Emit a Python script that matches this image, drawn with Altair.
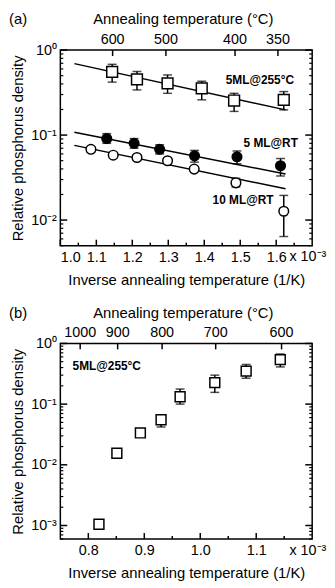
import altair as alt
import pandas as pd
import numpy as np

FONT = "Liberation Sans"

# ---------------- Panel (a) data ----------------
a_sq_x = [1.144, 1.213, 1.298, 1.393, 1.483, 1.621]
a_sq_y = [0.555, 0.452, 0.406, 0.355, 0.255, 0.26]
a_sq_lo = [0.42, 0.34, 0.31, 0.26, 0.19, 0.198]
a_sq_hi = [0.68, 0.56, 0.51, 0.43, 0.31, 0.325]

a_fc_x = [1.129, 1.205, 1.276, 1.373, 1.491, 1.612]
a_fc_y = [0.091, 0.080, 0.068, 0.057, 0.0555, 0.0436]
a_fc_lo = [0.080, 0.070, 0.060, 0.048, 0.046, 0.033]
a_fc_hi = [0.104, 0.091, 0.077, 0.066, 0.065, 0.053]

a_oc_x = [1.085, 1.147, 1.213, 1.298, 1.372, 1.488, 1.621]
a_oc_y = [0.068, 0.058, 0.0545, 0.0499, 0.0398, 0.0274, 0.0127]
a_oc_lo = [0.063, 0.054, 0.051, 0.047, 0.0375, 0.0245, 0.0064]
a_oc_hi = [0.073, 0.062, 0.058, 0.053, 0.042, 0.031, 0.0195]

fit_x = [1.039, 1.626]
fit_sq = [0.693, 0.198]
fit_fc = [0.108, 0.0348]
fit_oc = [0.0757, 0.0233]

a_top_temps = [600, 500, 400, 350]
a_bottom_major = [1.0, 1.1, 1.2, 1.3, 1.4, 1.5, 1.6]
a_bottom_minor = [1.05, 1.15, 1.25, 1.35, 1.45, 1.55, 1.65]

# ---------------- Panel (b) data ----------------
b_x = [0.819, 0.851, 0.893, 0.930, 0.964, 1.026, 1.082, 1.143]
b_y = [0.00105, 0.0155, 0.0335, 0.0553, 0.132, 0.226, 0.35, 0.54]
b_lo = [np.nan, np.nan, 0.030, 0.042, 0.10, 0.156, 0.267, 0.41]
b_hi = [np.nan, np.nan, 0.038, 0.065, 0.177, 0.30, 0.45, 0.67]

b_top_temps = [1000, 900, 800, 700, 600]
b_bottom_major = [0.8, 0.9, 1.0, 1.1]
b_bottom_minor = [0.85, 0.95, 1.05, 1.15]

W, H = 255, 198
SW = 1.5
LBL = 14.5
TTL = 15


def log_ticks(lo_exp, hi_exp, dmin):
    major = [10.0 ** e for e in range(lo_exp, hi_exp + 1)]
    minor = [m * 10.0 ** e for e in range(lo_exp - 1, hi_exp) for m in range(2, 10)
             if m * 10.0 ** e >= dmin]
    return major, minor


YLABEL = ("datum.value > 0.5 ? '10\u2070' : datum.value > 0.05 ? '10\u207b\u00b9' : "
          "datum.value > 0.005 ? '10\u207b\u00b2' : '10\u207b\u00b3'")


def txt(text, px, py, size=TTL, weight="normal", align="center", baseline="middle"):
    return alt.Chart(pd.DataFrame({"t": [text]})).mark_text(
        font=FONT, fontWeight=weight, fontSize=size, color="black", align=align,
        baseline=baseline).encode(text="t:N", x=alt.value(px), y=alt.value(py))


class Panel:
    def __init__(self, xdom, ydom, xmaj, ymaj):
        self.xs = alt.Scale(domain=xdom, nice=False, zero=False)
        self.ys = alt.Scale(type="log", domain=ydom, nice=False)
        common = dict(ticks=False, domain=False, grid=False, labelFont=FONT, titleFont=FONT,
                      labelFontSize=LBL, titleFontSize=TTL, titleFontWeight="normal",
                      labelColor="black", titleColor="black")
        self.xax = alt.Axis(orient="bottom", values=xmaj, format=".1f", labelPadding=5,
                            title="Inverse annealing temperature (1/K)", titlePadding=9,
                            **common)
        self.yax = alt.Axis(orient="left", values=ymaj, labelExpr=YLABEL, labelPadding=4,
                            title="Relative phosphorus density", titlePadding=5, **common)

    def X(self, f):
        return alt.X(f, scale=self.xs, axis=self.xax)

    def Y(self, f):
        return alt.Y(f, scale=self.ys, axis=self.yax)


def frame_layers(p, xmaj, xmin, top_temps, ymaj, ymin):
    layers = []
    dfxM = pd.DataFrame({"v": xmaj})
    dfxm = pd.DataFrame({"v": xmin})
    dfT = pd.DataFrame({"T": top_temps, "v": [1000.0 / (t + 273.15) for t in top_temps]})
    dfyM = pd.DataFrame({"v": ymaj})
    dfym = pd.DataFrame({"v": ymin})
    layers.append(alt.Chart(dfxM).mark_rule(color="black", strokeWidth=SW).encode(
        x=p.X("v:Q"), y=alt.value(H), y2=alt.value(H - 6)))
    layers.append(alt.Chart(dfxm).mark_rule(color="black", strokeWidth=SW).encode(
        x=p.X("v:Q"), y=alt.value(H), y2=alt.value(H - 3)))
    layers.append(alt.Chart(dfT).mark_rule(color="black", strokeWidth=SW).encode(
        x=p.X("v:Q"), y=alt.value(0), y2=alt.value(6)))
    layers.append(alt.Chart(dfT).mark_text(
        font=FONT, fontSize=LBL, color="black", baseline="bottom").encode(
        x=p.X("v:Q"), y=alt.value(-3), text=alt.Text("T:Q", format="d")))
    layers.append(txt("Annealing temperature (\u00b0C)", W / 2 - 3, -31))
    layers.append(alt.Chart(dfyM).mark_rule(color="black", strokeWidth=SW).encode(
        y=p.Y("v:Q"), x=alt.value(0), x2=alt.value(7)))
    layers.append(alt.Chart(dfym).mark_rule(color="black", strokeWidth=1.2).encode(
        y=p.Y("v:Q"), x=alt.value(0), x2=alt.value(3)))
    layers.append(alt.Chart(dfyM).mark_rule(color="black", strokeWidth=SW).encode(
        y=p.Y("v:Q"), x=alt.value(W), x2=alt.value(W - 7)))
    layers.append(alt.Chart(dfym).mark_rule(color="black", strokeWidth=1.2).encode(
        y=p.Y("v:Q"), x=alt.value(W), x2=alt.value(W - 3)))
    layers.append(txt("x 10\u207b\u00b3", W - 23, H + 5, LBL, align="left", baseline="top"))
    return layers


def series_layers(p, df, shape, filled, size):
    out = []
    e = df.dropna(subset=["lo", "hi"])
    out.append(alt.Chart(e).mark_rule(color="black", strokeWidth=SW).encode(
        x=p.X("x:Q"), y=p.Y("lo:Q"), y2="hi:Q"))
    out.append(alt.Chart(e).mark_tick(orient="horizontal", color="black", size=9, thickness=SW).encode(
        x=p.X("x:Q"), y=p.Y("lo:Q")))
    out.append(alt.Chart(e).mark_tick(orient="horizontal", color="black", size=9, thickness=SW).encode(
        x=p.X("x:Q"), y=p.Y("hi:Q")))
    out.append(alt.Chart(df).mark_point(shape=shape, filled=True, size=size, stroke="black",
                                        strokeWidth=SW, fill="black" if filled else "white",
                                        opacity=1).encode(
        x=p.X("x:Q"), y=p.Y("y:Q")))
    return out


# ---------------- build panel (a) ----------------
ymaj_a, ymin_a = log_ticks(-2, 0, 0.005)
pa = Panel([1.0, 1.7], [0.005, 1], a_bottom_major, ymaj_a)

df_sq = pd.DataFrame({"x": a_sq_x, "y": a_sq_y, "lo": a_sq_lo, "hi": a_sq_hi})
df_fc = pd.DataFrame({"x": a_fc_x, "y": a_fc_y, "lo": a_fc_lo, "hi": a_fc_hi})
df_oc = pd.DataFrame({"x": a_oc_x, "y": a_oc_y, "lo": a_oc_lo, "hi": a_oc_hi})
df_fit = pd.concat([
    pd.DataFrame({"x": fit_x, "y": fit_sq, "s": "sq"}),
    pd.DataFrame({"x": fit_x, "y": fit_fc, "s": "fc"}),
    pd.DataFrame({"x": fit_x, "y": fit_oc, "s": "oc"}),
])

layers_a = frame_layers(pa, a_bottom_major, a_bottom_minor, a_top_temps, ymaj_a, ymin_a)
layers_a.append(alt.Chart(df_fit).mark_line(color="black", strokeWidth=SW).encode(
    x=pa.X("x:Q"), y=pa.Y("y:Q"), detail="s:N"))
layers_a += series_layers(pa, df_sq, "square", False, 120)
layers_a += series_layers(pa, df_fc, "circle", True, 95)
layers_a += series_layers(pa, df_oc, "circle", False, 95)
layers_a.append(txt("5ML@255\u00b0C", 202, 30, 12, "bold"))
layers_a.append(txt("5 ML@RT", 213, 94, 12, "bold"))
layers_a.append(txt("10 ML@RT", 185, 152, 12, "bold"))
layers_a.append(txt("(a)", -52, -31, TTL, align="left"))

panel_a = alt.layer(*layers_a).properties(width=W, height=H)

# ---------------- build panel (b) ----------------
ymaj_b, ymin_b = log_ticks(-3, 0, 0.0006)
pb = Panel([0.75, 1.2], [0.0006, 1], b_bottom_major, ymaj_b)

df_b = pd.DataFrame({"x": b_x, "y": b_y, "lo": b_lo, "hi": b_hi})
layers_b = frame_layers(pb, b_bottom_major, b_bottom_minor, b_top_temps, ymaj_b, ymin_b)
layers_b += series_layers(pb, df_b, "square", False, 100)
layers_b.append(txt("5ML@255\u00b0C", 47, 23, 12, "bold"))
layers_b.append(txt("(b)", -52, -31, TTL, align="left"))

panel_b = alt.layer(*layers_b).properties(width=W, height=H)

chart = alt.vconcat(panel_a, panel_b, spacing=16).resolve_scale(
    x="independent", y="independent"
).properties(padding=0, background="white").configure_view(stroke="black", strokeWidth=SW)

chart.save("out.html", embed_options={"renderer": "svg", "actions": False})
